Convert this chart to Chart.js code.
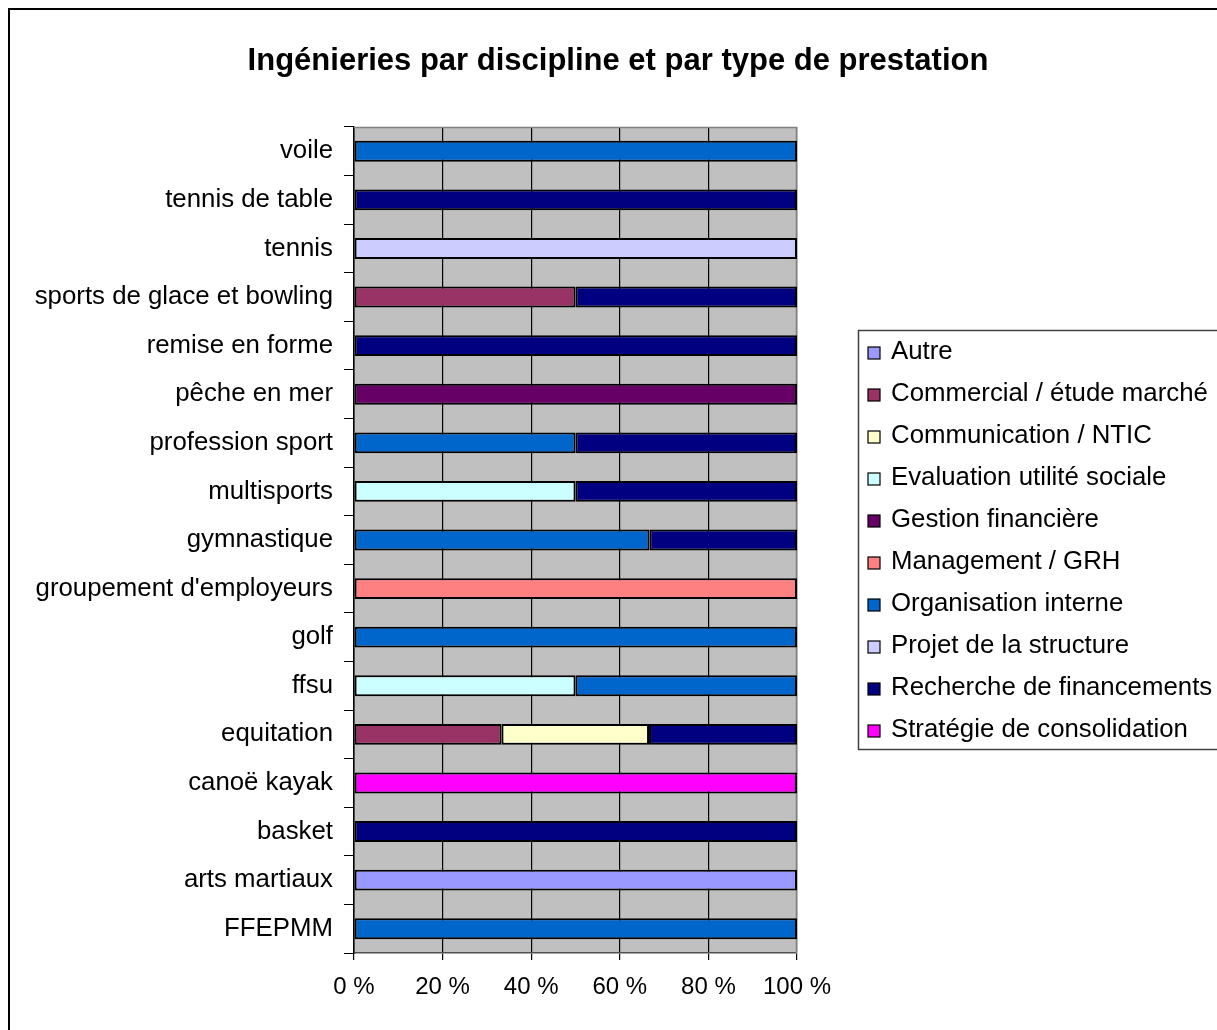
<!DOCTYPE html>
<html>
<head>
<meta charset="utf-8">
<script src="https://cdn.jsdelivr.net/npm/chart.js@4/dist/chart.umd.min.js"></script>
<style>
  body { margin: 0; background: #fff; }
  canvas { display: block; }
</style>
</head>
<body>
<canvas id="chart" width="1217" height="1030"></canvas>
<script>
const chartTitle = "Ingénieries par discipline et par type de prestation";

const categories = [
  "voile", "tennis de table", "tennis", "sports de glace et bowling",
  "remise en forme", "pêche en mer", "profession sport", "multisports",
  "gymnastique", "groupement d'employeurs", "golf", "ffsu", "equitation",
  "canoë kayak", "basket", "arts martiaux", "FFEPMM"
];

const xTicks = [0, 20, 40, 60, 80, 100];

// share (%) of each type, one entry per category (top to bottom)
const autre         = [null, null, null, null, null, null, null, null, null, null, null, null, null, null, null, 100, null];
const commercial    = [null, null, null, 50, null, null, null, null, null, null, null, null, 33.3, null, null, null, null];
const communication = [null, null, null, null, null, null, null, null, null, null, null, null, 33.3, null, null, null, null];
const evaluation    = [null, null, null, null, null, null, null, 50, null, null, null, 50, null, null, null, null, null];
const gestion       = [null, null, null, null, null, 100, null, null, null, null, null, null, null, null, null, null, null];
const management    = [null, null, null, null, null, null, null, null, null, 100, null, null, null, null, null, null, null];
const organisation  = [100, null, null, null, null, null, 50, null, 66.7, null, 100, 50, null, null, null, null, 100];
const projet        = [null, null, 100, null, null, null, null, null, null, null, null, null, null, null, null, null, null];
const recherche     = [null, 100, null, 50, 100, null, 50, 50, 33.3, null, null, null, 33.4, null, 100, null, null];
const strategie     = [null, null, null, null, null, null, null, null, null, null, null, null, null, 100, null, null, null];

const seriesNames = [
  "Autre", "Commercial / étude marché", "Communication / NTIC",
  "Evaluation utilité sociale", "Gestion financière", "Management / GRH",
  "Organisation interne", "Projet de la structure",
  "Recherche de financements", "Stratégie de consolidation"
];
const seriesValues = [autre, commercial, communication, evaluation, gestion,
  management, organisation, projet, recherche, strategie];
const seriesColors = ["#9999FF", "#993366", "#FFFFCC", "#CCFFFF", "#660066",
  "#FF8080", "#0066CC", "#CCCCFF", "#000080", "#FF00FF"];

const FONT = "'Liberation Sans', Arial, sans-serif";
Chart.defaults.font.family = FONT;
Chart.defaults.color = "#000";

const decor = {
  id: "decor",
  beforeDraw(chart) {
    const ctx = chart.ctx;
    const a = chart.chartArea;
    ctx.save();
    ctx.fillStyle = "#fff";
    ctx.fillRect(0, 0, chart.width, chart.height);
    ctx.strokeStyle = "#000";
    ctx.lineWidth = 2;
    ctx.strokeRect(9, 9, chart.width + 20, chart.height + 20);
    ctx.fillStyle = "#C0C0C0";
    ctx.fillRect(a.left, a.top, a.right - a.left, a.bottom - a.top);
    ctx.restore();
  },
  beforeDatasetsDraw(chart) {
    const ctx = chart.ctx;
    const a = chart.chartArea;
    ctx.save();
    ctx.strokeStyle = "#808080";
    ctx.lineWidth = 1.5;
    ctx.beginPath();
    ctx.moveTo(a.left, a.top + 0.5);
    ctx.lineTo(a.right - 0.5, a.top + 0.5);
    ctx.lineTo(a.right - 0.5, a.bottom);
    ctx.stroke();
    ctx.restore();
  },
  afterDraw(chart) {
    const ctx = chart.ctx;
    ctx.save();
    // title
    ctx.fillStyle = "#000";
    ctx.font = "bold 31px " + FONT;
    ctx.textAlign = "center";
    ctx.textBaseline = "alphabetic";
    ctx.fillText(chartTitle, 618, 70);

    // legend
    const lx = 858, ly = 330, lh = 42;
    ctx.strokeStyle = "#404040";
    ctx.lineWidth = 1.5;
    ctx.strokeRect(lx + 0.5, ly + 0.5, 400, 419);
    ctx.font = "25.8px " + FONT;
    ctx.textAlign = "left";
    chart.data.datasets.forEach((ds, i) => {
      const base = 359 + i * lh;
      ctx.fillStyle = ds.backgroundColor;
      ctx.fillRect(868, base - 12, 12, 12);
      ctx.strokeStyle = "#000";
      ctx.lineWidth = 1.2;
      ctx.strokeRect(868, base - 12, 12, 12);
      ctx.fillStyle = "#000";
      ctx.fillText(ds.label, 891, base);
    });
    ctx.restore();
  }
};

new Chart(document.getElementById("chart"), {
  type: "bar",
  data: {
    labels: categories,
    datasets: seriesNames.map((name, i) => ({
      label: name,
      data: seriesValues[i],
      backgroundColor: seriesColors[i],
      borderColor: "#000",
      borderWidth: 2,
      borderSkipped: false,
      barPercentage: 0.43,
      categoryPercentage: 1
    }))
  },
  options: {
    indexAxis: "y",
    responsive: false,
    animation: false,
    devicePixelRatio: 1,
    layout: { padding: { top: 127, right: 420, left: 0, bottom: 0 } },
    plugins: {
      legend: { display: false },
      title: { display: false },
      tooltip: { enabled: false }
    },
    scales: {
      x: {
        stacked: true,
        min: 0,
        max: 100,
        afterBuildTicks: scale => { scale.ticks = xTicks.map(v => ({ value: v })); },
        ticks: {
          callback: v => v + " %",
          font: { size: 24 },
          padding: 13,
          maxRotation: 0
        },
        grid: { color: "#000", lineWidth: 1.2, tickLength: 7 },
        border: { color: "#505050", width: 1.5 },
        afterFit: scale => { scale.height = 77; }
      },
      y: {
        stacked: true,
        ticks: { font: { size: 25.8 }, padding: 11, autoSkip: false },
        grid: { drawOnChartArea: false, color: "#000", tickLength: 10, offset: true },
        border: { color: "#000", width: 1.5 },
        afterFit: scale => { scale.width = 354; }
      }
    }
  },
  plugins: [decor]
});
</script>
</body>
</html>
